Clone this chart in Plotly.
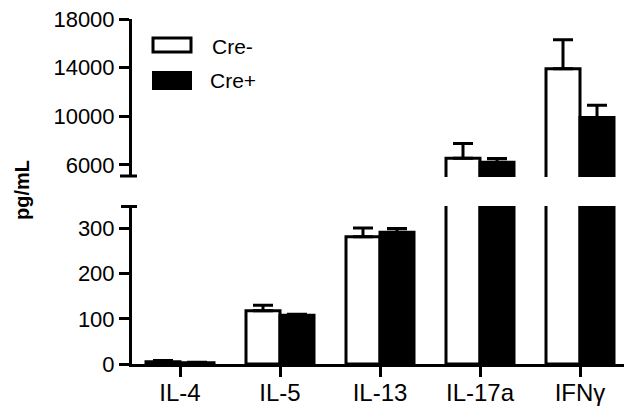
import plotly.graph_objects as go

categories = ["IL-4", "IL-5", "IL-13", "IL-17a", "IFNγ"]
cre_minus = [5, 118, 282, 6550, 13900]
cre_minus_err = [3, 12, 19, 1200, 2400]
cre_plus = [3, 108, 292, 6220, 9900]
cre_plus_err = [1, 2, 8, 300, 1000]
lower_ticks = [0, 100, 200, 300]
upper_ticks = [6000, 10000, 14000, 18000]
series_names = ["Cre-", "Cre+"]

FONT = "Liberation Sans, Arial, sans-serif"
W, H = 624, 406
ML, MR, MT, MB = 132, 0, 19, 42
PW, PH = W - ML - MR, H - MT - MB


def px(x):
    return (x - ML) / PW


def py(y):
    return (H - MB - y) / PH


fig = go.Figure()

for xa, ya in [("x", "y"), ("x2", "y2")]:
    fig.add_trace(go.Bar(
        x=categories, y=cre_minus, name=series_names[0], xaxis=xa, yaxis=ya,
        marker=dict(color="white", line=dict(color="black", width=3)),
        error_y=dict(type="data", array=cre_minus_err, arrayminus=[0] * 5,
                     symmetric=False, thickness=3, width=10, color="black"),
        showlegend=False,
    ))
    fig.add_trace(go.Bar(
        x=categories, y=cre_plus, name=series_names[1], xaxis=xa, yaxis=ya,
        marker=dict(color="black", line=dict(color="black", width=3)),
        error_y=dict(type="data", array=cre_plus_err, arrayminus=[0] * 5,
                     symmetric=False, thickness=3, width=10, color="black"),
        showlegend=False,
    ))

axis_common = dict(showline=True, linewidth=3, linecolor="black", ticks="outside",
                   ticklen=10, tickwidth=3, tickcolor="black", showgrid=False,
                   zeroline=False, automargin=False)

lower_dom = [0, py(206)]
upper_dom = [py(177), 1]

fig.update_layout(
    width=W, height=H,
    margin=dict(l=ML, r=MR, t=MT, b=MB, pad=0),
    plot_bgcolor="white", paper_bgcolor="white",
    barmode="group", bargap=0.32, bargroupgap=0,
    font=dict(family=FONT, color="black"),
    xaxis=dict(anchor="y", range=[-0.48, 4.44], ticklabelstandoff=-5,
               tickfont=dict(family=FONT, size=24, color="black"), **axis_common),
    xaxis2=dict(anchor="y2", matches="x", visible=False),
    yaxis=dict(domain=lower_dom, range=[0, 350], tickvals=lower_ticks, tickformat="d",
               anchor="x", tickfont=dict(family=FONT, size=22, color="black"), **axis_common),
    yaxis2=dict(domain=upper_dom, range=[5000, 18000], tickvals=upper_ticks, tickformat="d",
                anchor="x2", tickfont=dict(family=FONT, size=22, color="black"), **axis_common),
)

# axis break caps
fig.add_shape(type="line", xref="paper", yref="paper", x0=px(120), x1=px(137), y0=py(176), y1=py(176),
              line=dict(color="black", width=3))
fig.add_shape(type="line", xref="paper", yref="paper", x0=px(121), x1=px(137), y0=py(206.5), y1=py(206.5),
              line=dict(color="black", width=3))

# legend
fig.add_shape(type="rect", xref="paper", yref="paper", x0=px(153), x1=px(191), y0=py(38), y1=py(52),
              line=dict(color="black", width=3), fillcolor="white")
fig.add_shape(type="rect", xref="paper", yref="paper", x0=px(152), x1=px(192), y0=py(71), y1=py(90),
              line=dict(color="black", width=0), fillcolor="black")
fig.add_annotation(xref="paper", yref="paper", x=px(210), y=py(46), text=series_names[0], showarrow=False,
                   xanchor="left", yanchor="middle", font=dict(family=FONT, size=21, color="black"))
fig.add_annotation(xref="paper", yref="paper", x=px(208), y=py(80), text=series_names[1], showarrow=False,
                   xanchor="left", yanchor="middle", font=dict(family=FONT, size=21, color="black"))

# y title
fig.add_annotation(xref="paper", yref="paper", x=px(22), y=py(190), text="<b>pg/mL</b>", showarrow=False,
                   textangle=-90, xanchor="center", yanchor="middle",
                   font=dict(family=FONT, size=20, color="black"))

fig.write_html("out.html", config={"displayModeBar": False},
               post_script="document.body.style.margin='0';document.body.style.overflow='hidden';")
